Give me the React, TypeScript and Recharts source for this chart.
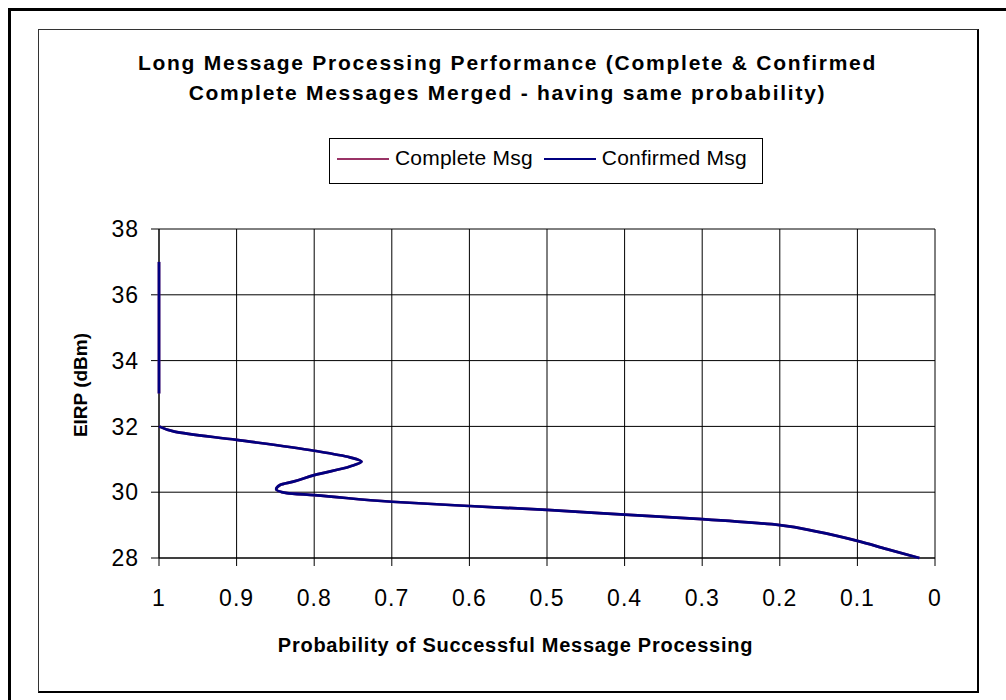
import React from 'react';
import { ScatterChart, Scatter, XAxis, YAxis, CartesianGrid } from 'recharts';

const titleLines = [
  'Long Message Processing Performance (Complete & Confirmed',
  'Complete Messages Merged - having same probability)',
];
const xAxisTitle = 'Probability of Successful Message Processing';
const yAxisTitle = 'EIRP (dBm)';

const seriesNames = ['Complete Msg', 'Confirmed Msg'];
const seriesColors = ['#993366', '#000080'];

const xTicks = [0, 0.1, 0.2, 0.3, 0.4, 0.5, 0.6, 0.7, 0.8, 0.9, 1];
const yTicks = [28, 30, 32, 34, 36, 38];

// Upper segment (EIRP 33..37 dBm) — probability 1
const upperEirp = [33, 34, 35, 36, 37];
const upperProb = [1, 1, 1, 1, 1];

// Lower segment (EIRP 28..32 dBm)
const lowerEirp = [28.0, 28.27, 28.52, 28.8, 29.0, 29.18, 29.32, 29.46, 29.58, 29.71, 29.91, 29.97, 30.09, 30.22, 30.32, 30.52, 30.78, 30.93, 31.06, 31.26, 31.59, 31.84, 32.0];
const confirmedLowerProb = [0.02, 0.062, 0.1, 0.152, 0.2, 0.3, 0.4, 0.5, 0.6, 0.7, 0.8, 0.835, 0.849, 0.844, 0.827, 0.8, 0.754, 0.739, 0.754, 0.8, 0.9, 0.98, 1.0];
// Complete Msg has the same probability as Confirmed Msg
const completeLowerProb = [0.02, 0.062, 0.1, 0.152, 0.2, 0.3, 0.4, 0.5, 0.6, 0.7, 0.8, 0.835, 0.849, 0.844, 0.827, 0.8, 0.754, 0.739, 0.754, 0.8, 0.9, 0.98, 1.0];

const toPoints = (eirp: number[], prob: number[]) => eirp.map((e, i) => ({ eirp: e, p: prob[i] }));

const completeUpper = toPoints(upperEirp, upperProb);
const completeLower = toPoints(lowerEirp, completeLowerProb);
const confirmedUpper = toPoints(upperEirp, upperProb);
const confirmedLower = toPoints(lowerEirp, confirmedLowerProb);

const FONT = '"Liberation Sans", Arial, sans-serif';

const noShape = () => <g />;

export default function App() {
  const segs = [
    { data: completeUpper, color: seriesColors[0], key: 'cu' },
    { data: completeLower, color: seriesColors[0], key: 'cl' },
    { data: confirmedUpper, color: seriesColors[1], key: 'fu' },
    { data: confirmedLower, color: seriesColors[1], key: 'fl' },
  ];
  return (
    <div style={{ position: 'absolute', left: 0, top: 0, width: 1006, height: 700, overflow: 'hidden', background: '#fff', fontFamily: FONT }}>
      {/* outer frame (top/left only visible) */}
      <div style={{ position: 'absolute', left: 8, top: 8, width: 1100, height: 800, borderTop: '3px solid #000', borderLeft: '3px solid #000' }} />
      {/* inner chart frame */}
      <div style={{ position: 'absolute', left: 38, top: 29, width: 938, height: 661, border: '1px solid #333', borderRight: '2px solid #000', borderBottom: '2px solid #000' }} />

      <div style={{ position: 'absolute', left: 0, top: 0 }}>
        <ScatterChart width={1006} height={700} margin={{ top: 229, right: 71, bottom: 0, left: 0 }}>
          <CartesianGrid stroke="#000" strokeWidth={1} />
          <XAxis
            type="number"
            dataKey="p"
            domain={[0, 1]}
            ticks={xTicks}
            interval={0}
            reversed
            height={142}
            tickSize={8}
            tickMargin={24}
            axisLine={{ stroke: '#000' }}
            tickLine={{ stroke: '#000' }}
            tick={{ fill: '#000', fontSize: 23, fontFamily: FONT, letterSpacing: 1 }}
          />
          <YAxis
            type="number"
            dataKey="eirp"
            domain={[28, 38]}
            ticks={yTicks}
            interval={0}
            width={159}
            tickSize={8}
            tickMargin={12}
            axisLine={{ stroke: '#000' }}
            tickLine={{ stroke: '#000' }}
            tick={{ fill: '#000', fontSize: 23, fontFamily: FONT, letterSpacing: 1 }}
          />
          {segs.map((s) => (
            <Scatter
              key={s.key}
              data={s.data}
              fill={s.color}
              line={{ stroke: s.color, strokeWidth: 2.7 }}
              lineType="joint"
              lineJointType="monotoneY"
              shape={noShape}
              isAnimationActive={false}
              legendType="none"
            />
          ))}
        </ScatterChart>
      </div>

      {/* title */}
      <div style={{ position: 'absolute', left: 7.5, top: 48, width: 1000, textAlign: 'center', fontSize: 21, lineHeight: '30px', fontWeight: 'bold', letterSpacing: 1.75, color: '#000' }}>
        {titleLines.map((t) => (
          <div key={t}>{t}</div>
        ))}
      </div>

      {/* legend */}
      <div style={{ position: 'absolute', left: 329, top: 138, width: 432, height: 44, border: '1px solid #000', boxSizing: 'content-box' }}>
        <div style={{ position: 'absolute', left: 7, top: 7, display: 'flex', alignItems: 'flex-start', whiteSpace: 'nowrap' }}>
          {seriesNames.map((n, i) => (
            <div key={n} style={{ display: 'flex', alignItems: 'flex-start', marginRight: i === 0 ? 11 : 0 }}>
              <div style={{ width: 52, height: 2, marginTop: 12, background: seriesColors[i], marginRight: 6 }} />
              <span style={{ fontSize: 21, lineHeight: '24px', letterSpacing: 0.2, color: '#000' }}>{n}</span>
            </div>
          ))}
        </div>
      </div>

      {/* x axis title */}
      <div style={{ position: 'absolute', left: 215.5, top: 633, width: 600, textAlign: 'center', fontSize: 20, lineHeight: '24px', fontWeight: 'bold', letterSpacing: 0.75, color: '#000' }}>
        {xAxisTitle}
      </div>

      {/* y axis title */}
      <div style={{ position: 'absolute', left: 81.4 - 100, top: 385 - 12, width: 200, height: 24, textAlign: 'center', fontSize: 19, lineHeight: '24px', fontWeight: 'bold', color: '#000', transform: 'rotate(-90deg)', transformOrigin: '50% 50%' }}>
        {yAxisTitle}
      </div>
    </div>
  );
}
